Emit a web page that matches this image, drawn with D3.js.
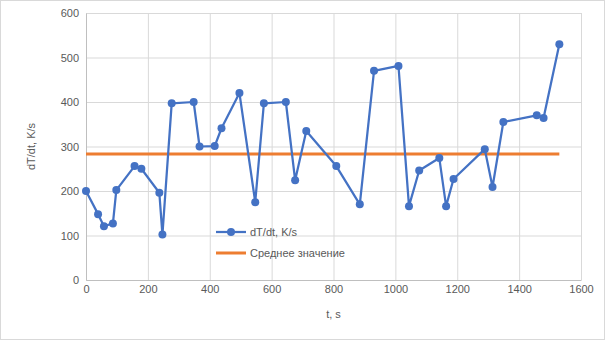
<!DOCTYPE html>
<html>
<head>
<meta charset="utf-8">
<script src="https://cdn.jsdelivr.net/npm/d3@7"></script>
<style>
  body { margin: 0; background: #fff; }
  text { font-family: "Liberation Sans", Arial, sans-serif; fill: #595959; }
</style>
</head>
<body>
<div id="chart"></div>
<script>
// data
var times = [0, 39, 58, 87, 98, 157, 179, 237, 247, 277, 348, 367, 416, 438, 496,
             547, 575, 646, 676, 712, 809, 885, 931, 1010, 1044, 1077, 1142, 1164,
             1188, 1289, 1314, 1349, 1457, 1479, 1530];
var rates = [200, 148, 121, 127, 202, 256, 250, 196, 102, 397, 400, 300, 301, 341, 420,
             175, 397, 400, 224, 335, 256, 170, 470, 481, 166, 246, 274, 166,
             227, 294, 209, 355, 370, 364, 530];
var meanTimes = [0, 1530];
var meanValues = [283, 283];
var xTicks = [0, 200, 400, 600, 800, 1000, 1200, 1400, 1600];
var yTicks = [0, 100, 200, 300, 400, 500, 600];
var seriesNames = ["dT/dt, K/s", "Среднее значение"];

var W = 605, H = 340;
var margin = {top: 13, right: 24, bottom: 60, left: 86};
var width = W - margin.left - margin.right,
    height = H - margin.top - margin.bottom;

var points = times.map(function(t, i) { return {t: t, v: rates[i]}; });
var meanPts = meanTimes.map(function(t, i) { return {t: t, v: meanValues[i]}; });

var xScale = d3.scaleLinear().domain([0, 1600]).range([0, width]);
var yScale = d3.scaleLinear().domain([0, 600]).range([height, 0]);

var svg = d3.select("#chart").append("svg")
    .attr("width", W)
    .attr("height", H);

// outer chart border
svg.append("rect")
    .attr("x", 0.5).attr("y", 0.5)
    .attr("width", W - 1).attr("height", H - 1)
    .attr("fill", "#fff")
    .attr("stroke", "#d9d9d9");

var g = svg.append("g")
    .attr("transform", "translate(" + margin.left + "," + margin.top + ")");

// gridlines
g.append("g")
    .attr("transform", "translate(0," + height + ")")
    .call(d3.axisBottom(xScale).tickValues(xTicks).tickSize(-height).tickFormat(""))
    .call(function(s) { s.select(".domain").remove(); s.selectAll("line").attr("stroke", "#d9d9d9"); });

g.append("g")
    .call(d3.axisLeft(yScale).tickValues(yTicks).tickSize(-width).tickFormat(""))
    .call(function(s) { s.select(".domain").remove(); s.selectAll("line").attr("stroke", "#d9d9d9"); });

// axes with labels
var xAxis = g.append("g")
    .attr("transform", "translate(0," + height + ")")
    .call(d3.axisBottom(xScale).tickValues(xTicks).tickSize(0).tickPadding(5).tickFormat(d3.format("d")));
xAxis.select(".domain").attr("stroke", "#bfbfbf");
xAxis.selectAll("text").attr("font-size", 11).style("fill", "#595959");

var yAxis = g.append("g")
    .call(d3.axisLeft(yScale).tickValues(yTicks).tickSize(0).tickPadding(7).tickFormat(d3.format("d")));
yAxis.select(".domain").attr("stroke", "#bfbfbf");
yAxis.selectAll("text").attr("font-size", 11).style("fill", "#595959");

// mean line
var line = d3.line()
    .x(function(d) { return xScale(d.t); })
    .y(function(d) { return yScale(d.v); });

g.append("path")
    .datum(meanPts)
    .attr("fill", "none")
    .attr("stroke", "#ed7d31")
    .attr("stroke-width", 3)
    .attr("d", line);

// data series
g.append("path")
    .datum(points)
    .attr("fill", "none")
    .attr("stroke", "#4472c4")
    .attr("stroke-width", 2.25)
    .attr("stroke-linejoin", "round")
    .attr("d", line);

g.selectAll(".dot")
    .data(points)
  .enter().append("circle")
    .attr("class", "dot")
    .attr("cx", function(d) { return xScale(d.t); })
    .attr("cy", function(d) { return yScale(d.v); })
    .attr("r", 4)
    .attr("fill", "#4472c4");

// axis titles
svg.append("text")
    .attr("x", margin.left + width / 2)
    .attr("y", 318)
    .attr("text-anchor", "middle")
    .attr("font-size", 11)
    .text("t, s");

svg.append("text")
    .attr("transform", "translate(35," + (margin.top + height / 2) + ") rotate(-90)")
    .attr("text-anchor", "middle")
    .attr("font-size", 11)
    .text("dT/dt, K/s");

// legend
var legend = svg.append("g").attr("transform", "translate(216,232)");
legend.append("line")
    .attr("x1", 0).attr("x2", 30).attr("y1", 0).attr("y2", 0)
    .attr("stroke", "#4472c4").attr("stroke-width", 2.25);
legend.append("circle")
    .attr("cx", 15).attr("cy", 0).attr("r", 4).attr("fill", "#4472c4");
legend.append("text")
    .attr("x", 34).attr("y", 4)
    .attr("font-size", 11)
    .text(seriesNames[0]);
legend.append("line")
    .attr("x1", 0).attr("x2", 30).attr("y1", 21).attr("y2", 21)
    .attr("stroke", "#ed7d31").attr("stroke-width", 3);
legend.append("text")
    .attr("x", 34).attr("y", 25)
    .attr("font-size", 11)
    .text(seriesNames[1]);
</script>
</body>
</html>
